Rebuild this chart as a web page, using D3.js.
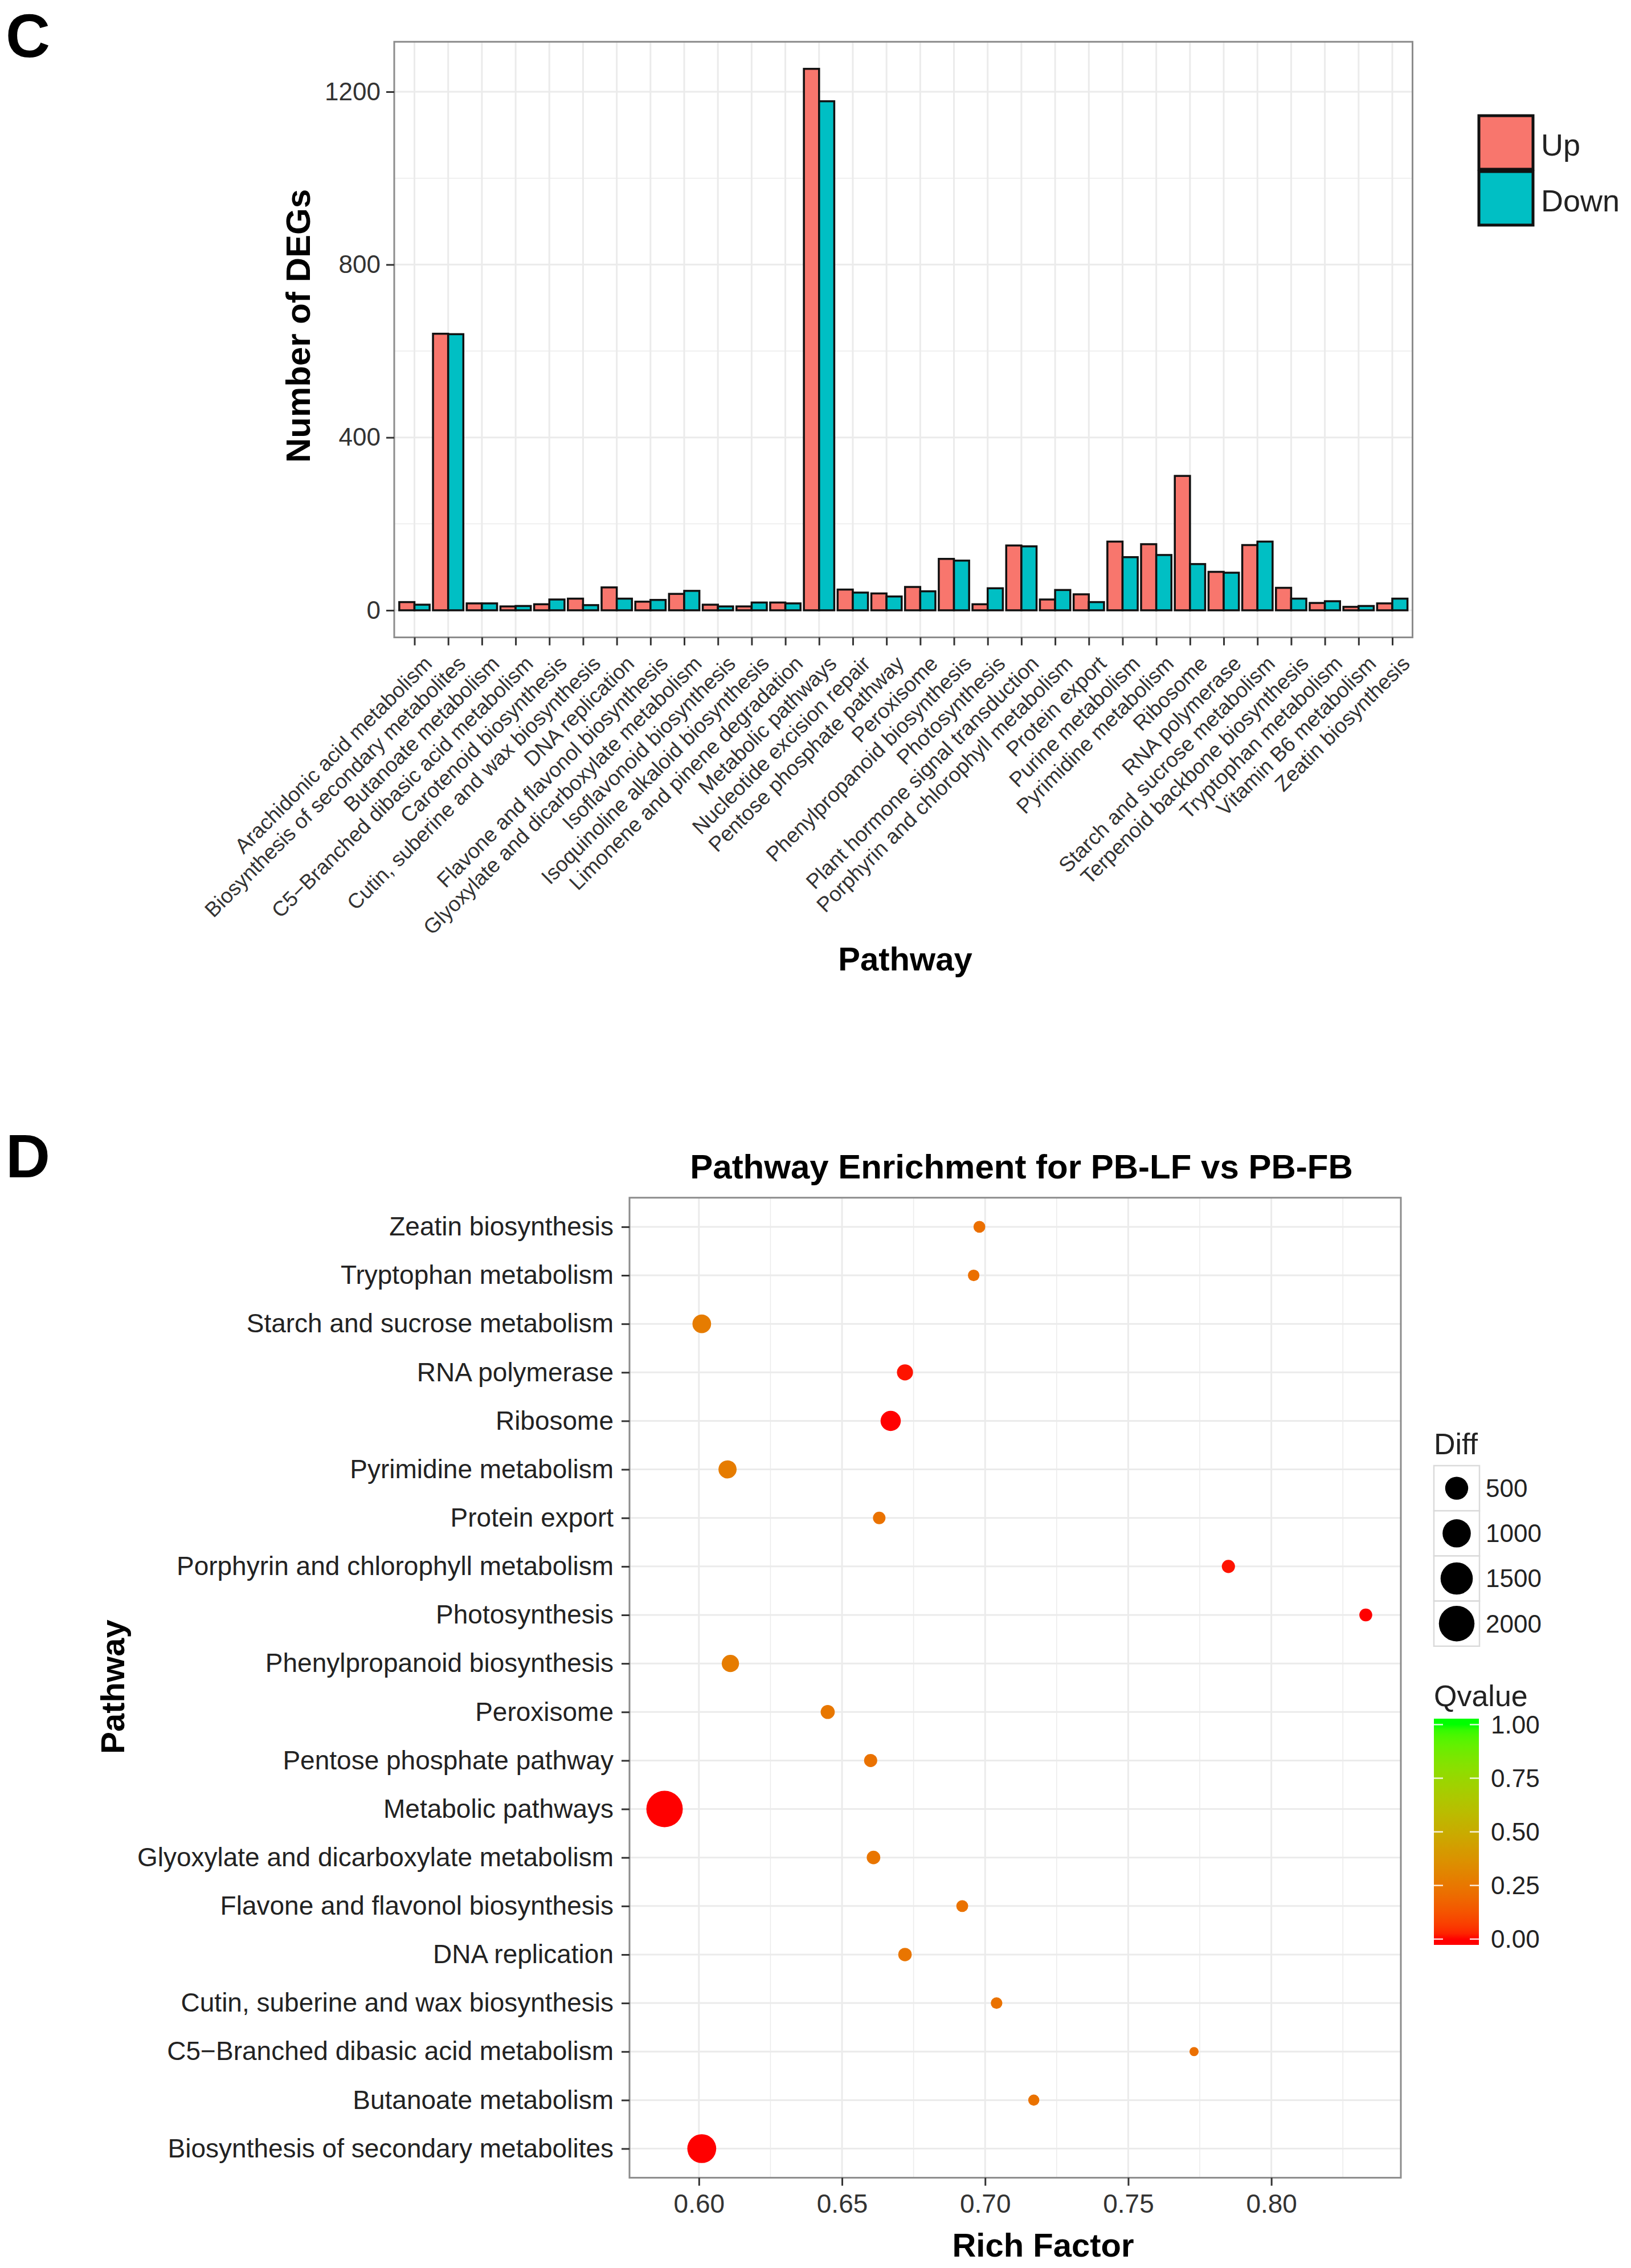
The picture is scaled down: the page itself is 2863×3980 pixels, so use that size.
<!DOCTYPE html>
<html>
<head>
<meta charset="utf-8">
<script src="https://cdn.jsdelivr.net/npm/d3@7"></script>
<style>
  body { margin: 0; background: #fff; }
  svg { display: block; }
  text { font-family: "Liberation Sans", Arial, Helvetica, sans-serif; }
</style>
</head>
<body>
<svg id="chart" width="2863" height="3980"></svg>
<script>
// ---------------- DATA ----------------
// Panel C: number of DEGs per KEGG pathway
const pathways = [
  "Arachidonic acid metabolism", "Biosynthesis of secondary metabolites", "Butanoate metabolism",
  "C5\u2212Branched dibasic acid metabolism", "Carotenoid biosynthesis", "Cutin, suberine and wax biosynthesis",
  "DNA replication", "Flavone and flavonol biosynthesis", "Glyoxylate and dicarboxylate metabolism",
  "Isoflavonoid biosynthesis", "Isoquinoline alkaloid biosynthesis", "Limonene and pinene degradation",
  "Metabolic pathways", "Nucleotide excision repair", "Pentose phosphate pathway", "Peroxisome",
  "Phenylpropanoid biosynthesis", "Photosynthesis", "Plant hormone signal transduction",
  "Porphyrin and chlorophyll metabolism", "Protein export", "Purine metabolism", "Pyrimidine metabolism",
  "Ribosome", "RNA polymerase", "Starch and sucrose metabolism", "Terpenoid backbone biosynthesis",
  "Tryptophan metabolism", "Vitamin B6 metabolism", "Zeatin biosynthesis"
];
const upCounts   = [19, 640, 16, 9, 14, 27, 53, 20, 38, 13, 9, 18, 1253, 48, 39, 54, 119, 14, 150, 25, 37, 159, 153, 311, 89, 151, 52, 17, 8, 16];
const downCounts = [13, 639, 16, 10, 25, 12, 27, 24, 45, 9, 18, 16, 1178, 41, 32, 44, 115, 51, 148, 47, 19, 123, 128, 107, 87, 159, 27, 21, 10, 27];
const groups = ["Up", "Down"];
const groupColors = ["#F8766D", "#00BFC4"];
const countTicks = [0, 400, 800, 1200];

// Panel D: pathway enrichment (top to bottom)
const enrichPathways = [
  "Zeatin biosynthesis", "Tryptophan metabolism", "Starch and sucrose metabolism", "RNA polymerase",
  "Ribosome", "Pyrimidine metabolism", "Protein export", "Porphyrin and chlorophyll metabolism",
  "Photosynthesis", "Phenylpropanoid biosynthesis", "Peroxisome", "Pentose phosphate pathway",
  "Metabolic pathways", "Glyoxylate and dicarboxylate metabolism", "Flavone and flavonol biosynthesis",
  "DNA replication", "Cutin, suberine and wax biosynthesis", "C5\u2212Branched dibasic acid metabolism",
  "Butanoate metabolism", "Biosynthesis of secondary metabolites"
];
const richFactor = [0.698, 0.696, 0.601, 0.672, 0.667, 0.610, 0.663, 0.785, 0.833, 0.611,
                    0.645, 0.660, 0.588, 0.661, 0.692, 0.672, 0.704, 0.773, 0.717, 0.601];
const diffCounts = [43, 38, 310, 176, 418, 281, 56, 72, 65, 234,
                    98, 71, 2431, 83, 44, 80, 39, 19, 32, 1280];
const qValues    = [0.22, 0.22, 0.27, 0.01, 0.0, 0.27, 0.23, 0.01, 0.0, 0.27,
                    0.25, 0.23, 0.0, 0.24, 0.23, 0.24, 0.23, 0.22, 0.23, 0.0];
const richTicks = [0.60, 0.65, 0.70, 0.75, 0.80];
const diffLegendValues = [500, 1000, 1500, 2000];
const qTicks = [0, 0.25, 0.5, 0.75, 1];

// ---------------- DRAW ----------------
const svg = d3.select("#chart");
const gridCol = "#EBEBEB";
const borderCol = "#8C8C8C";
const tickTextCol = "#333333";

// ===== Panel C =====
const C = { left: 692, right: 2479.5, top: 73.3, bottom: 1118.5 };
const xC = d3.scalePoint().domain(pathways).range([C.left, C.right]).padding(0.6);
const stepC = xC.step();
const subC = d3.scaleBand().domain(groups).range([-0.45 * stepC, 0.45 * stepC]);
const maxC = d3.max(upCounts.concat(downCounts));
const yC = d3.scaleLinear().domain([-0.05 * maxC, 1.05 * maxC]).range([C.bottom, C.top]);

svg.append("text").attr("x", 10).attr("y", 100).attr("font-size", 108).attr("font-weight", "bold").text("C");

const gC = svg.append("g");
gC.append("rect").attr("x", C.left).attr("y", C.top).attr("width", C.right - C.left).attr("height", C.bottom - C.top).attr("fill", "#fff");
// minor horizontal grid
const minorC = d3.pairs(countTicks).map(p => (p[0] + p[1]) / 2);
gC.selectAll(".hminor").data(minorC).join("line")
  .attr("x1", C.left).attr("x2", C.right).attr("y1", d => yC(d)).attr("y2", d => yC(d))
  .attr("stroke", gridCol).attr("stroke-width", 1.5);
gC.selectAll(".hmajor").data(countTicks).join("line")
  .attr("x1", C.left).attr("x2", C.right).attr("y1", d => yC(d)).attr("y2", d => yC(d))
  .attr("stroke", gridCol).attr("stroke-width", 3);
gC.selectAll(".vmajor").data(pathways).join("line")
  .attr("x1", d => xC(d)).attr("x2", d => xC(d)).attr("y1", C.top).attr("y2", C.bottom)
  .attr("stroke", gridCol).attr("stroke-width", 3);

// bars
const barData = [];
pathways.forEach((p, i) => {
  barData.push({ p, g: "Up", v: upCounts[i] });
  barData.push({ p, g: "Down", v: downCounts[i] });
});
gC.selectAll(".bar").data(barData).join("rect")
  .attr("x", d => xC(d.p) + subC(d.g))
  .attr("width", subC.bandwidth())
  .attr("y", d => yC(d.v))
  .attr("height", d => yC(0) - yC(d.v))
  .attr("fill", d => groupColors[groups.indexOf(d.g)])
  .attr("stroke", "#111").attr("stroke-width", 3.5);

gC.append("rect").attr("x", C.left).attr("y", C.top).attr("width", C.right - C.left).attr("height", C.bottom - C.top)
  .attr("fill", "none").attr("stroke", borderCol).attr("stroke-width", 3);

// axes C
const axLC = gC.append("g").attr("transform", `translate(${C.left},0)`)
  .call(d3.axisLeft(yC).tickValues(countTicks).tickSize(14).tickPadding(10).tickFormat(d3.format("d")));
axLC.select(".domain").remove();
axLC.selectAll("line").attr("stroke", "#333").attr("stroke-width", 3);
axLC.selectAll("text").attr("font-size", 44).attr("fill", tickTextCol).attr("font-family", "Liberation Sans, Arial, sans-serif");

const axBC = gC.append("g").attr("transform", `translate(0,${C.bottom})`)
  .call(d3.axisBottom(xC).tickSize(14).tickFormat(""));
axBC.select(".domain").remove();
axBC.selectAll("line").attr("stroke", "#333").attr("stroke-width", 3);

gC.selectAll(".xlab").data(pathways).join("text")
  .attr("transform", d => `translate(${xC(d) + 33},1167) rotate(-45)`)
  .attr("text-anchor", "end").attr("font-size", 37).attr("fill", tickTextCol)
  .text(d => d);

svg.append("text").attr("transform", "translate(544,572) rotate(-90)")
  .attr("text-anchor", "middle").attr("font-size", 60).attr("font-weight", "bold").text("Number of DEGs");
svg.append("text").attr("x", 1589).attr("y", 1703)
  .attr("text-anchor", "middle").attr("font-size", 58).attr("font-weight", "bold").text("Pathway");

// legend C
const legC = svg.append("g");
groups.forEach((g, i) => {
  const y0 = 203 + i * 98;
  legC.append("rect").attr("x", 2596).attr("y", y0).attr("width", 95).attr("height", 94)
    .attr("fill", groupColors[i]).attr("stroke", "#111").attr("stroke-width", 5);
  legC.append("text").attr("x", 2705).attr("y", y0 + 70).attr("font-size", 54).attr("fill", "#222").text(g);
});

// ===== Panel D =====
const D = { left: 1105, right: 2459, top: 2101.8, bottom: 3821.6 };
const yD = d3.scalePoint().domain(enrichPathways).range([D.top, D.bottom]).padding(0.6);
const rfMin = d3.min(richFactor), rfMax = d3.max(richFactor), rfR = rfMax - rfMin;
const xD = d3.scaleLinear().domain([rfMin - 0.05 * rfR, rfMax + 0.05 * rfR]).range([D.left, D.right]);
const dMin = d3.min(diffCounts), dMax = d3.max(diffCounts);
const rD = d3.scaleSqrt().domain([0, dMax - dMin]).range([8, 32]);
const radius = v => rD(Math.max(0, v - dMin));
const colD = d3.scaleLinear().domain([0, 1]).range(["#FF0000", "#00FF00"]).interpolate(d3.interpolateLab);

svg.append("text").attr("x", 10).attr("y", 2066).attr("font-size", 108).attr("font-weight", "bold").text("D");
svg.append("text").attr("x", 1793).attr("y", 2068).attr("text-anchor", "middle")
  .attr("font-size", 60).attr("font-weight", "bold").text("Pathway Enrichment for PB-LF vs PB-FB");

const gD = svg.append("g");
gD.append("rect").attr("x", D.left).attr("y", D.top).attr("width", D.right - D.left).attr("height", D.bottom - D.top).attr("fill", "#fff");
const minorD = d3.pairs(richTicks).map(p => (p[0] + p[1]) / 2).concat([richTicks[richTicks.length - 1] + 0.025]);
gD.selectAll(".vminor").data(minorD.filter(v => xD(v) < D.right)).join("line")
  .attr("x1", d => xD(d)).attr("x2", d => xD(d)).attr("y1", D.top).attr("y2", D.bottom)
  .attr("stroke", gridCol).attr("stroke-width", 1.5);
gD.selectAll(".vmajor").data(richTicks).join("line")
  .attr("x1", d => xD(d)).attr("x2", d => xD(d)).attr("y1", D.top).attr("y2", D.bottom)
  .attr("stroke", gridCol).attr("stroke-width", 3);
gD.selectAll(".hmajor").data(enrichPathways).join("line")
  .attr("x1", D.left).attr("x2", D.right).attr("y1", d => yD(d)).attr("y2", d => yD(d))
  .attr("stroke", gridCol).attr("stroke-width", 3);

const dotData = enrichPathways.map((p, i) => ({ p, rf: richFactor[i], diff: diffCounts[i], q: qValues[i] }));
gD.selectAll(".dot").data(dotData).join("circle")
  .attr("cx", d => xD(d.rf)).attr("cy", d => yD(d.p)).attr("r", d => radius(d.diff))
  .attr("fill", d => colD(d.q));

gD.append("rect").attr("x", D.left).attr("y", D.top).attr("width", D.right - D.left).attr("height", D.bottom - D.top)
  .attr("fill", "none").attr("stroke", borderCol).attr("stroke-width", 3);

const axLD = gD.append("g").attr("transform", `translate(${D.left},0)`)
  .call(d3.axisLeft(yD).tickSize(14).tickPadding(14));
axLD.select(".domain").remove();
axLD.selectAll("line").attr("stroke", "#333").attr("stroke-width", 3);
axLD.selectAll("text").attr("font-size", 46).attr("fill", "#222").attr("font-family", "Liberation Sans, Arial, sans-serif");

const axBD = gD.append("g").attr("transform", `translate(0,${D.bottom})`)
  .call(d3.axisBottom(xD).tickValues(richTicks).tickSize(14).tickPadding(15).tickFormat(d3.format(".2f")));
axBD.select(".domain").remove();
axBD.selectAll("line").attr("stroke", "#333").attr("stroke-width", 3);
axBD.selectAll("text").attr("font-size", 46).attr("fill", tickTextCol).attr("font-family", "Liberation Sans, Arial, sans-serif");

svg.append("text").attr("x", 1831).attr("y", 3960).attr("text-anchor", "middle")
  .attr("font-size", 58).attr("font-weight", "bold").text("Rich Factor");
svg.append("text").attr("transform", "translate(218,2960) rotate(-90)").attr("text-anchor", "middle")
  .attr("font-size", 58).attr("font-weight", "bold").text("Pathway");

// Diff legend
const legD = svg.append("g");
legD.append("text").attr("x", 2517).attr("y", 2552).attr("font-size", 52).attr("fill", "#222").text("Diff");
diffLegendValues.forEach((v, i) => {
  const y0 = 2572 + i * 79.2;
  legD.append("rect").attr("x", 2517).attr("y", y0).attr("width", 80).attr("height", 79.2)
    .attr("fill", "#fff").attr("stroke", "#DADADA").attr("stroke-width", 2.5);
  legD.append("circle").attr("cx", 2557).attr("cy", y0 + 39.6).attr("r", radius(v) + 1.5).attr("fill", "#000");
  legD.append("text").attr("x", 2608).attr("y", y0 + 39.6).attr("dy", "0.35em").attr("font-size", 44).attr("fill", "#222").text(v);
});

// Qvalue colorbar
legD.append("text").attr("x", 2517).attr("y", 2994).attr("font-size", 52).attr("fill", "#222").text("Qvalue");
const cb = { x: 2517, w: 79, top: 3016, bottom: 3413 };
const qY = d3.scaleLinear().domain([0, 1]).range([3402.8, 3026.4]);
const defs = svg.append("defs");
const grad = defs.append("linearGradient").attr("id", "qgrad").attr("x1", 0).attr("y1", 1).attr("x2", 0).attr("y2", 0);
const nStops = 40;
d3.range(nStops + 1).forEach(k => {
  const yy = cb.bottom - (cb.bottom - cb.top) * k / nStops;
  const q = Math.max(0, Math.min(1, qY.invert(yy)));
  grad.append("stop").attr("offset", k / nStops).attr("stop-color", colD(q));
});
legD.append("rect").attr("x", cb.x).attr("y", cb.top).attr("width", cb.w).attr("height", cb.bottom - cb.top).attr("fill", "url(#qgrad)");
qTicks.forEach(t => {
  const yy = qY(t);
  legD.append("line").attr("x1", cb.x).attr("x2", cb.x + 16).attr("y1", yy).attr("y2", yy).attr("stroke", "#fff").attr("stroke-width", 2.5).attr("opacity", 0.85);
  legD.append("line").attr("x1", cb.x + cb.w - 16).attr("x2", cb.x + cb.w).attr("y1", yy).attr("y2", yy).attr("stroke", "#fff").attr("stroke-width", 2.5).attr("opacity", 0.85);
  legD.append("text").attr("x", 2617).attr("y", yy).attr("dy", "0.35em").attr("font-size", 44).attr("fill", "#222").text(d3.format(".2f")(t));
});
</script>
</body>
</html>
